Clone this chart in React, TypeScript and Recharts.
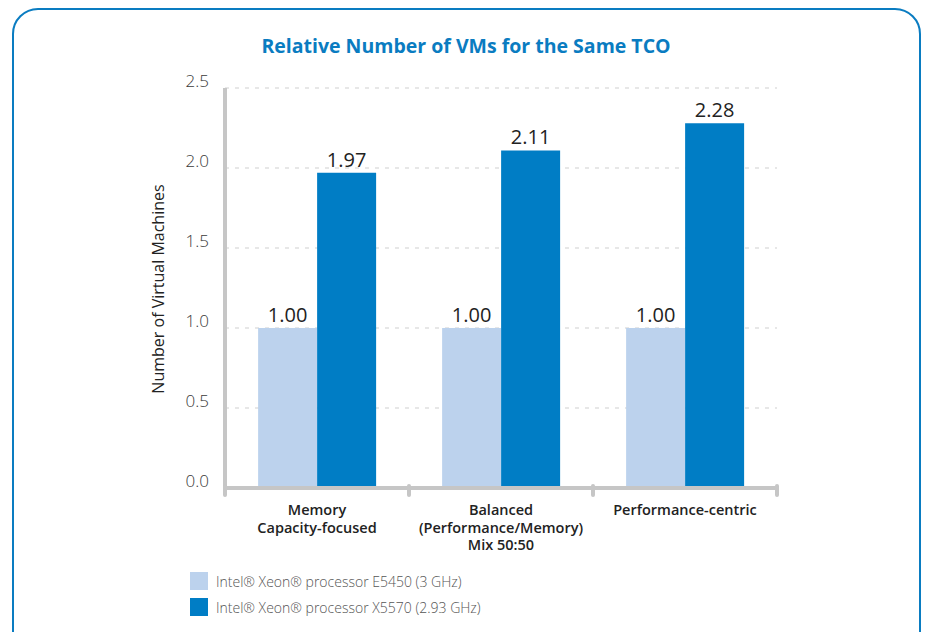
import { BarChart, Bar, XAxis, YAxis, CartesianGrid, LabelList } from "recharts"

const categories = ["Memory\nCapacity-focused", "Balanced\n(Performance/Memory)\nMix 50:50", "Performance-centric"]
const e5450 = [1.0, 1.0, 1.0]
const x5570 = [1.97, 2.11, 2.28]
const yTicks = [0, 0.5, 1.0, 1.5, 2.0, 2.5]
const seriesNames = ["Intel® Xeon® processor E5450 (3 GHz)", "Intel® Xeon® processor X5570 (2.93 GHz)"]

const data = categories.map((name, i) => ({ name, e5450: e5450[i], x5570: x5570[i] }))

const LIGHT = "#bcd2ed"
const DARK = "#007dc5"
const AXIS = "#c6c6c6"
const FONT = "'Open Sans', 'Noto Sans', sans-serif"

const CategoryTick = ({ x, y, payload, index, width, visibleTicksCount }: any) => {
  const lines = String(payload.value).split("\n")
  const bw = payload.offset ? payload.offset * 2 : width / (visibleTicksCount || 3)
  const axisY = y - 10
  return (
    <g>
      <line x1={x - bw / 2} x2={x - bw / 2} y1={axisY} y2={axisY + 9} stroke={AXIS} strokeWidth={4} strokeLinecap="round" />
      {index === (visibleTicksCount || 3) - 1 && (
        <line x1={x + bw / 2} x2={x + bw / 2} y1={axisY} y2={axisY + 9} stroke={AXIS} strokeWidth={4} strokeLinecap="round" />
      )}
      {lines.map((l, i) => (
        <text key={i} x={x} y={axisY + 29 + i * 17.7} textAnchor="middle" fill="#222" fontSize={14.5} fontWeight={600} fontFamily={FONT}>
          {l}
        </text>
      ))}
    </g>
  )
}

const ValueTick = ({ x, y, payload }: any) => (
  <text x={x - 8} y={y - 1} textAnchor="end" fill="#3a3a3a" fontSize={17} fontWeight={300} fontFamily={FONT}>
    {Number(payload.value).toFixed(1)}
  </text>
)

export default function App() {
  return (
    <div style={{ position: "absolute", left: 0, top: 0, width: 927, height: 632, overflow: "hidden", background: "#fff" }}>
      <div
        style={{
          position: "absolute",
          left: 12,
          top: 8,
          width: 905,
          height: 660,
          border: "2.5px solid #0a7cc1",
          borderRadius: 26,
        }}
      />
      <div
        style={{
          position: "absolute",
          left: 0,
          top: 32,
          width: 932,
          textAlign: "center",
          color: "#0a7cc1",
          fontFamily: FONT,
          fontWeight: 700,
          fontSize: 19.5,
        }}
      >
        Relative Number of VMs for the Same TCO
      </div>
      <div
        style={{
          position: "absolute",
          left: 158,
          top: 289,
          transform: "translate(-50%, -50%) rotate(-90deg)",
          whiteSpace: "nowrap",
          fontFamily: FONT,
          fontSize: 16,
          color: "#222",
        }}
      >
        Number of Virtual Machines
      </div>
      <div style={{ position: "absolute", left: 0, top: 0 }}>
        <BarChart width={927} height={632} data={data} margin={{ top: 88, right: 150, bottom: 84, left: 165 }} barCategoryGap="18%" barGap={0}>
          <CartesianGrid vertical={false} stroke="#cfcfcf" strokeDasharray="4 6" />
          <YAxis
            width={60}
            domain={[0, 2.5]}
            ticks={yTicks}
            interval={0}
            tick={<ValueTick />}
            tickLine={false}
            axisLine={{ stroke: AXIS, strokeWidth: 4 }}
          />
          <XAxis
            dataKey="name"
            height={60}
            interval={0}
            tick={<CategoryTick />}
            tickLine={false}
            tickSize={6}
            axisLine={{ stroke: AXIS, strokeWidth: 4 }}
          />
          <Bar dataKey="e5450" fill={LIGHT} isAnimationActive={false}>
            <LabelList dataKey="e5450" position="top" offset={6} formatter={(v: any) => Number(v).toFixed(2)} fill="#222" fontSize={20} fontFamily={FONT} />
          </Bar>
          <Bar dataKey="x5570" fill={DARK} isAnimationActive={false}>
            <LabelList dataKey="x5570" position="top" offset={6} formatter={(v: any) => Number(v).toFixed(2)} fill="#222" fontSize={20} fontFamily={FONT} />
          </Bar>
        </BarChart>
      </div>
      <div style={{ position: "absolute", left: 190, top: 568, fontFamily: FONT }}>
        {seriesNames.map((n, i) => (
          <div key={n} style={{ display: "flex", alignItems: "center", height: 26 }}>
            <div style={{ width: 18, height: 18, background: i === 0 ? LIGHT : DARK, marginRight: 8 }} />
            <span style={{ fontSize: 14, color: "#555", fontWeight: 300 }}>{n}</span>
          </div>
        ))}
      </div>
    </div>
  )
}
